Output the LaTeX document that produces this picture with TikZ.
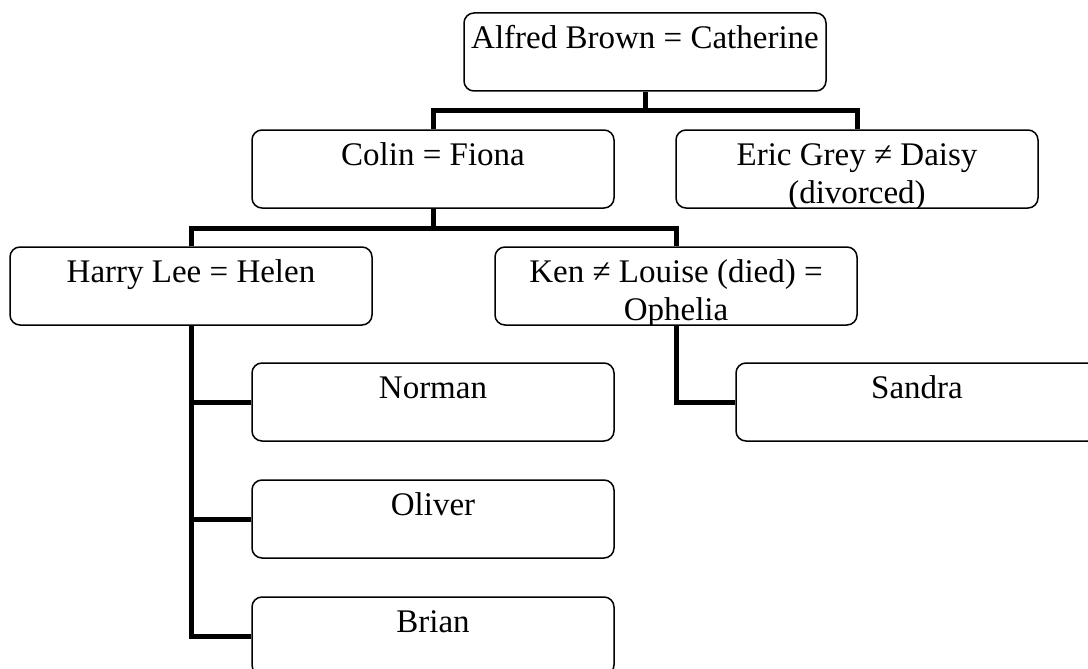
\documentclass[tikz,border=0pt]{standalone}
\usepackage{fontspec}
\setmainfont{Liberation Serif}
\usetikzlibrary{calc}

% text of a box, clipped to the box
\newcommand{\famtext}[2]{\begin{scope}
    \clip (#1.south west) rectangle (#1.north east);
    \node[nametext] (#1-t) at ([yshift=-36.5pt]#1.north)
      {\begin{tabular}[t]{@{}c@{}}#2\end{tabular}};
  \end{scope}}

\begin{document}
\begin{tikzpicture}[x=1pt, y=-1pt,
    person/.style ={draw, line width=1.5pt, rounded corners=10pt, fill=white,
      inner sep=0pt, minimum width=362pt, minimum height=78pt},
    nametext/.style ={anchor=base, inner sep=0pt, font=\fontsize{33}{38}\selectfont},
    link/.style ={line width=5pt}]
   \useasboundingbox (0,0) rectangle (1088,669);
   \clip (0,0) rectangle (1088,669);

   \node[person] (alfred) at (645,52) {};
   \node[person] (colin) at (433,169) {};
   \node[person] (eric) at (857,169) {};
   \node[person] (harry) at (191,286) {};
   \node[person] (ken) at (676,286) {};
   \node[person] (norman) at (433,402) {};
   \node[person] (oliver) at (433,519) {};
   \node[person] (brian) at (433,636) {};
   \node[person] (sandra) at (917,402) {};

   \famtext{alfred}{Alfred Brown = Catherine}
   \famtext{colin}{Colin = Fiona}
   \famtext{eric}{Eric Grey ≠ Daisy\\(divorced)}
   \famtext{harry}{Harry Lee = Helen}
   \famtext{ken}{Ken ≠ Louise (died) =\\Ophelia}
   \famtext{norman}{Norman}
   \famtext{oliver}{Oliver}
   \famtext{brian}{Brian}
   \famtext{sandra}{Sandra}


   \draw[link] (alfred.south) -- ++(0,19) coordinate (j1);
   \draw[link] (colin.north) |- (j1) -| (eric.north);
   \draw[link] (colin.south) -- ++(0,20) coordinate (j2);
   \draw[link] (harry.north) |- (j2) -| (ken.north);
   \draw[link] (harry.south) |- (brian.west);
   \draw[link] (harry.south) |- (norman.west);
   \draw[link] (harry.south) |- (oliver.west);
   \draw[link] (ken.south) |- (sandra.west);
 \end{tikzpicture}
\end{document}
